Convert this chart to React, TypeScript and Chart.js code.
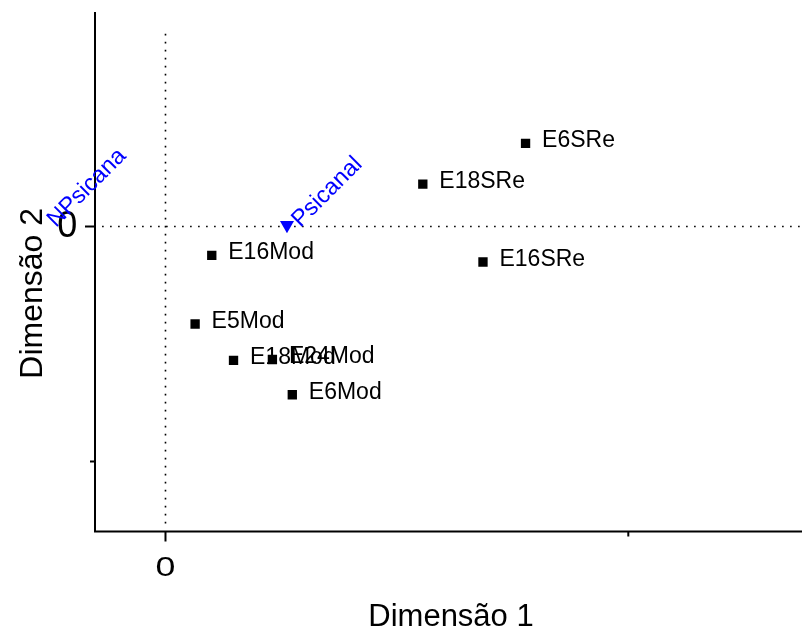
import { useEffect, useRef } from "react";
import { Chart, registerables } from "chart.js";

Chart.register(...registerables);

// ---- data ----
const rowLabels = ["E6SRe", "E18SRe", "E16SRe", "E16Mod", "E5Mod", "E18Mod", "E24Mod", "E6Mod"];
const rowX = [0.778, 0.556, 0.686, 0.1, 0.064, 0.147, 0.231, 0.274];
const rowY = [0.354, 0.18, -0.151, -0.123, -0.415, -0.57, -0.566, -0.716];

const colLabels = ["NPsicana", "Psicanal"];
const colX = [-0.2658, 0.2625];
const colY = [0.006, 0.006];

const xTickValues = [0, 1];
const xTickLabels = ["0", ""];
const yTickValues = [0, -1];
const yTickLabels = ["0", ""];

const xTitle = "Dimensão 1";
const yTitle = "Dimensão 2";

// axis ranges
const xMin = -0.1523;
const xMax = 1.3753;
const yMin = -1.2979;
const yMax = 0.9128;

// reference (dotted) lines extents
const vRefFrom = 0.82;
const vRefTo = -1.27;
const hRefFrom = -0.137;

const FONT = "'Liberation Sans', Arial, sans-serif";

const overlay = {
  id: "overlay",
  beforeDatasetsDraw(chart: any) {
    const { ctx } = chart;
    const xs = chart.scales.x;
    const ys = chart.scales.y;
    ctx.save();
    ctx.strokeStyle = "#000";
    ctx.lineWidth = 1.6;
    ctx.setLineDash([1.6, 6.4]);
    const x0 = xs.getPixelForValue(0);
    ctx.beginPath();
    ctx.moveTo(x0, ys.getPixelForValue(vRefFrom));
    ctx.lineTo(x0, ys.getPixelForValue(vRefTo));
    ctx.stroke();
    const y0 = ys.getPixelForValue(0);
    ctx.beginPath();
    ctx.moveTo(xs.getPixelForValue(hRefFrom), y0);
    ctx.lineTo(chart.chartArea.right, y0);
    ctx.stroke();
    ctx.restore();
  },
  afterDatasetsDraw(chart: any) {
    const { ctx, chartArea } = chart;
    const xs = chart.scales.x;
    const ys = chart.scales.y;
    ctx.save();
    ctx.strokeStyle = "#000";
    ctx.lineWidth = 2;
    ctx.setLineDash([]);
    ctx.beginPath();
    ctx.moveTo(chartArea.left, chartArea.top);
    ctx.lineTo(chartArea.left, chartArea.bottom + 1);
    ctx.moveTo(chartArea.left - 1, chartArea.bottom);
    ctx.lineTo(chartArea.right, chartArea.bottom);
    ctx.stroke();

    xTickValues.forEach((v, i) => {
      const px = xs.getPixelForValue(v);
      const len = xTickLabels[i] ? 10 : 5;
      ctx.beginPath();
      ctx.moveTo(px, chartArea.bottom);
      ctx.lineTo(px, chartArea.bottom + len);
      ctx.stroke();
      if (xTickLabels[i]) {
        ctx.save();
        ctx.translate(px, chartArea.bottom + 44.5);
        ctx.scale(1.3, 1);
        ctx.fillStyle = "#000";
        ctx.font = `27.5px ${FONT}`;
        ctx.textAlign = "center";
        ctx.textBaseline = "alphabetic";
        ctx.fillText(xTickLabels[i], 0, 0);
        ctx.restore();
      }
    });
    yTickValues.forEach((v, i) => {
      const py = ys.getPixelForValue(v);
      const len = yTickLabels[i] ? 10 : 5;
      ctx.beginPath();
      ctx.moveTo(chartArea.left, py);
      ctx.lineTo(chartArea.left - len, py);
      ctx.stroke();
      if (yTickLabels[i]) {
        ctx.fillStyle = "#000";
        ctx.font = `36px ${FONT}`;
        ctx.textAlign = "center";
        ctx.textBaseline = "alphabetic";
        ctx.fillText(yTickLabels[i], 67.2, py + 10);
      }
    });

    ctx.fillStyle = "#000";
    ctx.font = `31px ${FONT}`;
    ctx.textAlign = "center";
    ctx.textBaseline = "alphabetic";
    ctx.fillText(xTitle, 451, 626);

    ctx.save();
    ctx.translate(41.5, 293.3);
    ctx.rotate(-Math.PI / 2);
    ctx.font = `32px ${FONT}`;
    ctx.fillText(yTitle, 0, 0);
    ctx.restore();

    ctx.font = `23px ${FONT}`;
    ctx.textAlign = "left";
    ctx.fillStyle = "#000";
    rowLabels.forEach((lab, i) => {
      const px = xs.getPixelForValue(rowX[i]);
      const py = ys.getPixelForValue(rowY[i]);
      ctx.fillText(lab, px + 16.5, py + 3.8);
    });

    ctx.fillStyle = "#0000ff";
    ctx.font = `23.5px ${FONT}`;
    colLabels.forEach((lab, i) => {
      const px = xs.getPixelForValue(colX[i]);
      const py = ys.getPixelForValue(colY[i]);
      ctx.save();
      ctx.translate(px + 13.5, py + 3);
      ctx.rotate(-Math.PI / 4);
      ctx.fillText(lab, 0, 0);
      ctx.restore();
    });
    ctx.restore();
  },
};

export default function App() {
  const ref = useRef<HTMLCanvasElement | null>(null);

  useEffect(() => {
    if (!ref.current) return;
    const chart = new Chart(ref.current, {
      type: "scatter",
      data: {
        datasets: [
          {
            label: "rows",
            data: rowX.map((x, i) => ({ x, y: rowY[i] })),
            pointStyle: "rect",
            pointRadius: 6.6,
            pointHoverRadius: 6.6,
            backgroundColor: "#000",
            borderWidth: 0,
            showLine: false,
          },
          {
            label: "cols",
            data: colX.map((x, i) => ({ x, y: colY[i] })),
            pointStyle: "triangle",
            rotation: 180,
            pointRadius: 8.1,
            pointHoverRadius: 8.1,
            backgroundColor: "#0000ff",
            borderWidth: 0,
            showLine: false,
          },
        ],
      },
      options: {
        responsive: false,
        animation: false,
        events: [],
        layout: { autoPadding: false, padding: { left: 95, right: 0, top: 12, bottom: 100.5 } },
        plugins: { legend: { display: false }, tooltip: { enabled: false } },
        scales: {
          x: { type: "linear", min: xMin, max: xMax, display: false },
          y: { type: "linear", min: yMin, max: yMax, display: false },
        },
      },
      plugins: [overlay],
    });
    return () => chart.destroy();
  }, []);

  return (
    <div style={{ position: "absolute", left: 0, top: 0, width: 802, height: 632 }}>
      <canvas ref={ref} width={802} height={632} style={{ display: "block" }} />
    </div>
  );
}
